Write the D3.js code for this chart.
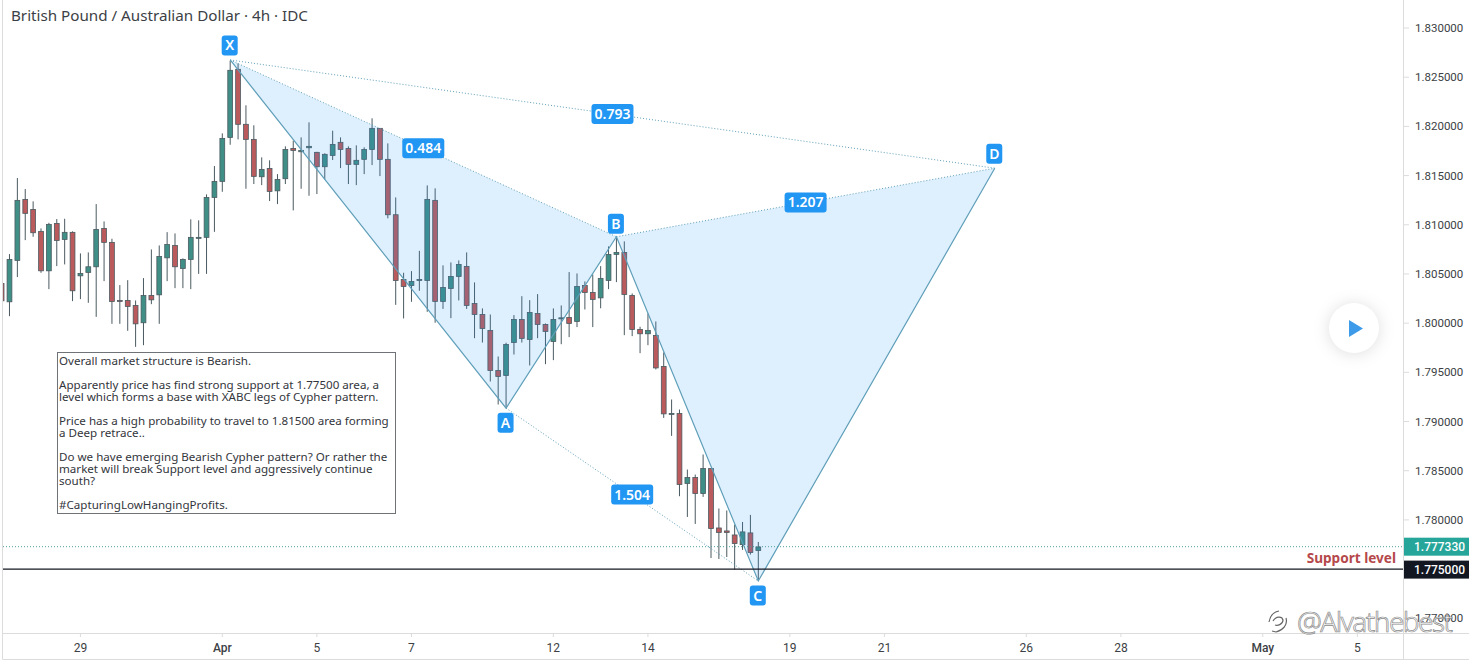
<!DOCTYPE html>
<html>
<head>
<meta charset="utf-8">
<script src="https://cdn.jsdelivr.net/npm/d3@7"></script>
<style>
html, body { margin: 0; padding: 0; background: #fff; overflow: hidden; }
svg { display: block; }
text { font-family: "Noto Sans", sans-serif; }
.axis { font-family: Roboto, sans-serif; }
</style>
</head>
<body>
<script>
// candles, one entry per 4h bar
const opens = [1.80404,1.80217,1.80638,1.81258,1.81156,1.80933,1.80532,1.81014,1.80851,1.80923,
1.80481,1.80516,1.80573,1.80963,1.80821,1.80231,1.80231,1.80180,1.80004,1.80282,
1.80288,1.80664,1.80790,1.80556,1.80648,1.80868,1.80872,1.81278,1.81441,1.81888,
1.82580,1.82021,1.81868,1.81488,1.81573,1.81345,1.81468,1.81776,1.81742,1.81783,
1.81736,1.81590,1.81705,1.81838,1.81776,1.81614,1.81665,1.81766,1.81980,1.81665,
1.81102,1.80444,1.80383,1.80434,1.80434,1.81248,1.80221,1.80353,1.80475,1.80577,
1.80200,1.80088,1.79925,1.79519,1.79468,1.79803,1.80038,1.79834,1.80098,1.79987,
1.79814,1.80048,1.80058,1.80017,1.80383,1.80312,1.80257,1.80434,1.80699,1.80719,
1.80282,1.79936,1.79892,1.79875,1.79560,1.79078,1.79082,1.78370,1.78431,1.78268,
1.78522,1.77918,1.77888,1.77847,1.77749,1.77868,1.77689];
const closes = [1.80227,1.80648,1.81248,1.81116,1.80919,1.80532,1.81004,1.80841,1.80923,1.80329,
1.80505,1.80573,1.80953,1.80821,1.80221,1.80227,1.80170,1.79993,1.80282,1.80237,
1.80678,1.80800,1.80573,1.80648,1.80872,1.80872,1.81278,1.81441,1.81878,1.82570,
1.82021,1.81868,1.81492,1.81563,1.81339,1.81461,1.81766,1.81756,1.81756,1.81797,
1.81590,1.81716,1.81817,1.81766,1.81614,1.81655,1.81766,1.81980,1.81665,1.81102,
1.80434,1.80373,1.80424,1.80444,1.81258,1.80221,1.80363,1.80475,1.80597,1.80180,
1.80088,1.79946,1.79519,1.79458,1.79784,1.80038,1.79845,1.80109,1.79987,1.79916,
1.80038,1.80054,1.79997,1.80373,1.80312,1.80241,1.80455,1.80699,1.80719,1.80292,
1.79936,1.79892,1.79925,1.79545,1.79078,1.79082,1.78360,1.78431,1.78268,1.78522,
1.77912,1.77872,1.77872,1.77760,1.77878,1.77668,1.77725];
const highs = [1.80437,1.80702,1.81475,1.81363,1.81238,1.80963,1.81020,1.81058,1.81061,1.80933,
1.80709,1.80719,1.81210,1.81034,1.80858,1.80387,1.80437,1.80231,1.80458,1.80749,
1.80790,1.80925,1.80912,1.80658,1.81055,1.81045,1.81309,1.81597,1.81929,1.82667,
1.82641,1.82214,1.82011,1.81685,1.81655,1.81515,1.81797,1.81854,1.81888,1.82041,
1.81742,1.81726,1.81956,1.81888,1.81797,1.81807,1.81787,1.82082,1.81980,1.81827,
1.81278,1.80512,1.80529,1.80735,1.81400,1.81370,1.80587,1.80617,1.80638,1.80719,
1.80414,1.80150,1.80088,1.79661,1.79801,1.80082,1.80274,1.80234,1.80295,1.79997,
1.80150,1.80180,1.80519,1.80505,1.80424,1.80495,1.80580,1.80780,1.80878,1.80831,
1.80302,1.79963,1.80098,1.80017,1.79702,1.79224,1.79122,1.78512,1.78461,1.78665,
1.78522,1.78116,1.78096,1.77952,1.77979,1.78051,1.77776];
const lows = [1.80214,1.80071,1.80468,1.80844,1.80878,1.80512,1.80346,1.80580,1.80597,1.80224,
1.80244,1.80207,1.80064,1.80427,1.79993,1.79993,1.79922,1.79759,1.79776,1.80193,
1.79993,1.80427,1.80356,1.80356,1.80346,1.80501,1.80501,1.80928,1.81335,1.81813,
1.81868,1.81366,1.81414,1.81403,1.81241,1.81210,1.81414,1.81146,1.81366,1.81295,
1.81312,1.81461,1.81658,1.81576,1.81414,1.81403,1.81515,1.81607,1.81495,1.81065,
1.80186,1.80048,1.80217,1.80329,1.80115,1.80004,1.80145,1.80051,1.80231,1.80145,
1.79847,1.79803,1.79407,1.79173,1.79136,1.79681,1.79803,1.79570,1.79847,1.79583,
1.79624,1.79786,1.79858,1.79960,1.80139,1.79960,1.80151,1.80346,1.80417,1.79878,
1.79868,1.79695,1.79776,1.79529,1.79037,1.78854,1.78241,1.78030,1.77959,1.78234,
1.77613,1.77603,1.77623,1.77496,1.77695,1.77648,1.77379];

// XABCD harmonic points: bar index and price
const pointNames = ["X", "A", "B", "C", "D"];
const pointBars = [29, 64, 78, 96, 126];
const pointPrices = [1.82675, 1.79136, 1.80878, 1.77379, 1.81575];
const ratios = ["0.484", "1.504", "0.793", "1.207"];

// axis ticks
const priceTicks = [1.83, 1.825, 1.82, 1.815, 1.81, 1.805, 1.8, 1.795, 1.79, 1.785, 1.78, 1.77];
const timeTickBars = [10, 28, 40, 52, 70, 82, 100, 112, 130, 142, 160, 172];
const timeTickLabels = ["29", "Apr", "5", "7", "12", "14", "19", "21", "26", "28", "May", "5"];

const lastPrice = 1.77733;
const supportPrice = 1.775;

const noteLines = [
  "Overall market structure is Bearish.",
  "",
  "Apparently price has find strong support at 1.77500 area, a",
  "level which forms a base with XABC legs of Cypher pattern.",
  "",
  "Price has a high probability to travel to 1.81500 area forming",
  "a Deep retrace..",
  "",
  "Do we have emerging Bearish Cypher pattern? Or rather the",
  "market will break Support level and aggressively continue",
  "south?",
  "",
  "#CapturingLowHangingProfits."
];

const width = 1469, height = 660;
const plotLeft = 3, plotRight = 1403, plotBottom = 633;
const upColor = "#3f8f86", downColor = "#bb5a5c", wickColor = "#4b5a60", legColor = "#5f9fb9";
const gridText = "#3c3f45", axisColor = "#dcdcdc", labelBlue = "#2196f3";

const x = d3.scaleLinear().domain([0, 96]).range([1.6, 758.3]);
const y = d3.scaleLinear().domain([1.77, 1.83]).range([618.3, 28]);

const svg = d3.select("body").append("svg")
  .attr("width", width)
  .attr("height", height);

svg.append("clipPath").attr("id", "plot")
  .append("rect")
  .attr("x", plotLeft).attr("y", 0)
  .attr("width", plotRight - plotLeft).attr("height", plotBottom);

// frame
svg.append("path")
  .attr("d", `M2.5 0V659.5H${width}`)
  .attr("fill", "none").attr("stroke", axisColor);

const plot = svg.append("g").attr("clip-path", "url(#plot)");

// candles
const bars = d3.range(opens.length);
const candle = plot.append("g").selectAll("g").data(bars).join("g");
candle.append("line")
  .attr("x1", d => x(d)).attr("x2", d => x(d))
  .attr("y1", d => y(highs[d])).attr("y2", d => y(lows[d]))
  .attr("stroke", wickColor);
candle.append("rect")
  .attr("x", d => x(d) - 2.4)
  .attr("width", 4.8)
  .attr("y", d => y(Math.max(opens[d], closes[d])))
  .attr("height", d => Math.max(1, Math.abs(y(opens[d]) - y(closes[d]))))
  .attr("fill", d => closes[d] >= opens[d] ? upColor : downColor)
  .attr("stroke", wickColor)
  .attr("stroke-width", 0.8);

// pattern
const pts = pointBars.map((b, i) => [x(b), y(pointPrices[i])]);
const [X, A, B, C, D] = pts;
const tri = d3.line();
plot.selectAll(".fill").data([[X, A, B], [B, C, D]]).join("path")
  .attr("d", d => tri(d) + "Z")
  .attr("fill", labelBlue)
  .attr("fill-opacity", 0.15);
plot.append("path")
  .attr("d", tri(pts))
  .attr("fill", "none")
  .attr("stroke", legColor)
  .attr("stroke-width", 1.2);
const dotted = [[X, B], [A, C], [X, D], [B, D]];
plot.selectAll(".dots").data(dotted).join("path")
  .attr("d", d => tri(d))
  .attr("fill", "none")
  .attr("stroke", legColor)
  .attr("stroke-width", 1)
  .attr("stroke-dasharray", "1 2");

// price lines
plot.append("line")
  .attr("x1", plotLeft).attr("x2", plotRight)
  .attr("y1", y(lastPrice) + 0.5).attr("y2", y(lastPrice) + 0.5)
  .attr("stroke", "#4f9f97").attr("stroke-dasharray", "1 2");
plot.append("line")
  .attr("x1", plotLeft).attr("x2", plotRight)
  .attr("y1", y(supportPrice)).attr("y2", y(supportPrice))
  .attr("stroke", "#131722").attr("stroke-width", 1.2);

svg.append("text")
  .attr("x", 1396).attr("y", y(supportPrice) - 6.5)
  .attr("text-anchor", "end")
  .attr("font-size", 13.6).attr("font-weight", 700)
  .attr("fill", "#b5484b")
  .text("Support level");

// ratio labels sit at the middle of the dotted lines
const ratioG = svg.append("g").selectAll("g").data(dotted).join("g")
  .attr("transform", d => `translate(${(d[0][0] + d[1][0]) / 2},${(d[0][1] + d[1][1]) / 2})`);
ratioG.append("rect")
  .attr("x", -21).attr("y", -10).attr("width", 42).attr("height", 20).attr("rx", 3)
  .attr("fill", labelBlue);
ratioG.append("text")
  .attr("text-anchor", "middle").attr("y", 5)
  .attr("font-size", 14).attr("font-weight", 600).attr("fill", "#fff")
  .text((d, i) => ratios[i]);

// point labels, above the highs and below the lows
const pointG = svg.append("g").selectAll("g").data(pts).join("g")
  .attr("transform", (d, i) => `translate(${d[0] - 0.5},${d[1] + (i == 1 || i == 3 ? 14.5 : i == 2 ? -13 : -14.5)})`);
pointG.append("rect")
  .attr("x", -8).attr("y", -10).attr("width", 16).attr("height", 20).attr("rx", 3)
  .attr("fill", labelBlue);
pointG.append("text")
  .attr("text-anchor", "middle").attr("y", 5)
  .attr("font-size", 14).attr("font-weight", 600).attr("fill", "#fff")
  .text((d, i) => pointNames[i]);

// note box
svg.append("rect")
  .attr("x", 57.5).attr("y", 352.5).attr("width", 338).attr("height", 161)
  .attr("fill", "#fff").attr("stroke", "#6f7377");
svg.append("g").selectAll("text").data(noteLines).join("text")
  .attr("x", 59).attr("y", (d, i) => 365 + i * 12)
  .attr("font-size", 11.6).attr("fill", "#33363c")
  .text(d => d);

// title
svg.append("text")
  .attr("x", 11).attr("y", 21)
  .attr("font-size", 15.2).attr("fill", "#3c3f45")
  .text("British Pound / Australian Dollar · 4h · IDC");

// y axis
svg.append("line")
  .attr("x1", plotRight + 0.5).attr("x2", plotRight + 0.5)
  .attr("y1", 0).attr("y2", 659)
  .attr("stroke", axisColor);
const yTick = svg.append("g").selectAll("g").data(priceTicks).join("g")
  .attr("transform", d => `translate(${plotRight + 1},${y(d)})`);
yTick.append("line").attr("x2", 5).attr("stroke", axisColor);
yTick.append("text")
  .attr("class", "axis")
  .attr("x", 11).attr("y", 4)
  .attr("font-size", 11.5).attr("fill", gridText)
  .text(d => d.toFixed(6));

// last price and support tags
const tags = [[lastPrice, "#26a69a"], [supportPrice, "#131722"]];
const tag = svg.append("g").selectAll("g").data(tags).join("g")
  .attr("transform", d => `translate(${plotRight + 1},${y(d[0]) + 0.5})`);
tag.append("rect")
  .attr("y", -9).attr("width", 65).attr("height", 18)
  .attr("fill", d => d[1]);
tag.append("text")
  .attr("class", "axis")
  .attr("x", 10).attr("y", 4.5)
  .attr("font-size", 12).attr("font-weight", 500).attr("fill", "#fff")
  .text(d => d[0].toFixed(6));

// x axis
svg.append("line")
  .attr("x1", 2).attr("x2", width)
  .attr("y1", plotBottom + 0.5).attr("y2", plotBottom + 0.5)
  .attr("stroke", axisColor);
const xTick = svg.append("g").selectAll("g").data(timeTickBars).join("g")
  .attr("transform", d => `translate(${x(d)},${plotBottom})`);
xTick.append("line").attr("y2", 4).attr("stroke", axisColor);
xTick.append("text")
  .attr("class", "axis")
  .attr("text-anchor", "middle").attr("y", 19)
  .attr("font-size", 12)
  .attr("font-weight", (d, i) => timeTickLabels[i] == "Apr" || timeTickLabels[i] == "May" ? 500 : 400)
  .attr("fill", gridText)
  .text((d, i) => timeTickLabels[i]);

// play button
svg.append("circle")
  .attr("cx", 1354).attr("cy", 328).attr("r", 25)
  .attr("fill", "#fff")
  .style("filter", "drop-shadow(0 1px 8px rgba(0,0,0,0.13))");
svg.append("path")
  .attr("d", "M1349 320L1363 328.5L1349 337Z")
  .attr("fill", "#3d9be9");

// watermark
const mark = svg.append("g")
  .attr("fill", "#fff").attr("fill-opacity", 0.75)
  .attr("stroke", "#8a8a8a").attr("stroke-width", 0.7);
mark.append("text")
  .attr("x", 1297).attr("y", 632)
  .attr("font-size", 28)
  .attr("textLength", 156)
  .attr("font-weight", 300)
  .text("@Alvathebest");
mark.append("path")
  .attr("fill", "none").attr("stroke", "#666").attr("stroke-width", 1.2)
  .attr("d", "M1269 622C1270 616 1274 612 1279 611M1286 618C1288 625 1283 630 1276 632L1272 631M1273 621C1276 616 1282 616 1283 620C1283 624 1278 626 1275 625");
</script>
</body>
</html>
